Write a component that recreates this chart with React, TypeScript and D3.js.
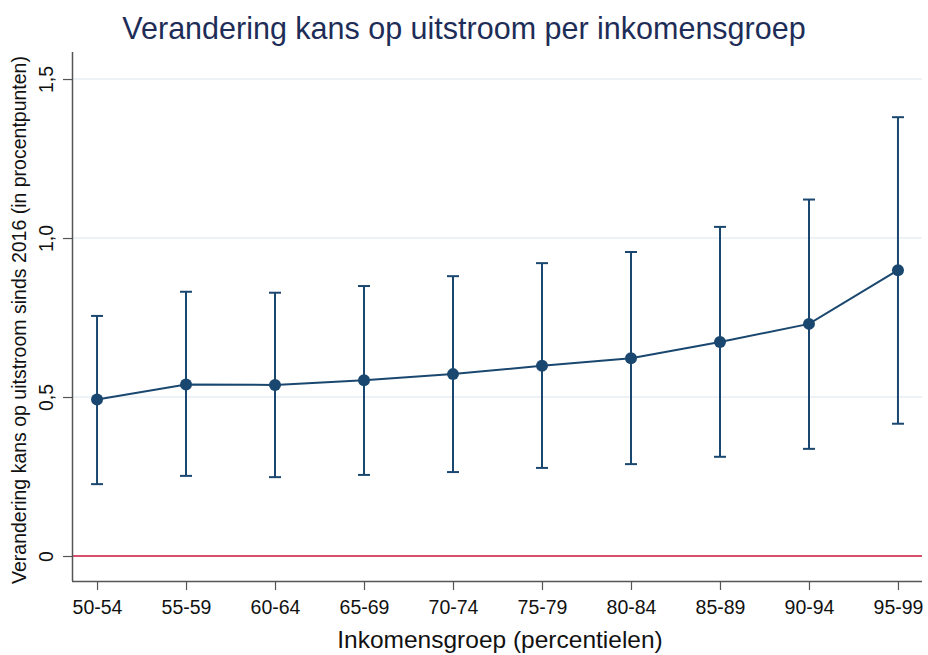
import React, { useEffect, useRef } from "react"
import * as d3 from "d3"

const groups = [ "50-54", "55-59", "60-64", "65-69", "70-74", "75-79", "80-84", "85-89", "90-94", "95-99" ]
const estimate = [ 0.492, 0.539, 0.538, 0.553, 0.572, 0.598, 0.622, 0.673, 0.73, 0.899 ]
const upper = [ 0.755, 0.831, 0.828, 0.849, 0.88, 0.921, 0.956, 1.035, 1.121, 1.38 ]
const lower = [ 0.226, 0.252, 0.248, 0.255, 0.264, 0.277, 0.289, 0.312, 0.337, 0.416 ]
const yTicks = [ 0, 0.5, 1, 1.5 ]
const yTickLabels = [ "0", "0,5", "1,0", "1,5" ]

const W = 928
const H = 655
const navy = "#1a476f"
const font = "'Liberation Sans', Arial, sans-serif"

export default function App() {
  const ref = useRef<SVGSVGElement>( null )

  useEffect( () => {
    const svg = d3.select( ref.current )
    svg.selectAll( "*" ).remove()

    const left = 73
    const right = 922
    const top = 52
    const bottom = 581

    const x = d3.scalePoint<string>()
      .domain( groups )
      .range( [ left, right ] )
      .padding( 0.27 )

    const y = d3.scaleLinear()
      .domain( [ -0.0786, 1.585 ] )
      .range( [ bottom, top ] )

    // grid lines
    svg.append( "g" )
      .selectAll( "line" )
      .data( yTicks.filter( d => d > 0 ) )
      .enter()
      .append( "line" )
      .attr( "x1", left )
      .attr( "x2", right )
      .attr( "y1", d => y( d ) )
      .attr( "y2", d => y( d ) )
      .attr( "stroke", "#e6eef3" )
      .attr( "stroke-width", 1.5 )

    // zero line
    svg.append( "line" )
      .attr( "x1", left )
      .attr( "x2", right )
      .attr( "y1", y( 0 ) )
      .attr( "y2", y( 0 ) )
      .attr( "stroke", "#c8143c" )
      .attr( "stroke-width", 1.5 )

    // y axis
    const yAxis = svg.append( "g" )
      .attr( "transform", `translate(${left},0)` )
      .call( d3.axisLeft( y ).tickValues( yTicks ).tickSize( 10 ).tickFormat( ( d, i ) => yTickLabels[ i ] ) )
    yAxis.select( ".domain" ).attr( "d", `M-0.5,${top}V${bottom}` ).attr( "stroke", "#555" ).attr( "stroke-width", 1.5 )
    yAxis.selectAll( ".tick line" ).attr( "stroke", "#555" ).attr( "stroke-width", 1.2 )
    yAxis.selectAll( ".tick text" )
      .attr( "x", 0 )
      .attr( "y", 0 )
      .attr( "dy", 0 )
      .attr( "transform", "translate(-20,0) rotate(-90)" )
      .attr( "text-anchor", "middle" )
      .attr( "font-family", font )
      .attr( "font-size", 19.5 )
      .attr( "fill", "#111" )

    // x axis
    const xAxis = svg.append( "g" )
      .attr( "transform", `translate(0,${bottom})` )
      .call( d3.axisBottom( x ).tickSize( 9 ).tickSizeOuter( 0 ) )
    xAxis.select( ".domain" ).attr( "d", `M${left - 1},0.5H${right}` ).attr( "stroke", "#555" ).attr( "stroke-width", 1.5 )
    xAxis.selectAll( ".tick line" ).attr( "stroke", "#555" ).attr( "stroke-width", 1.2 )
    xAxis.selectAll( ".tick text" )
      .attr( "y", 19 )
      .attr( "dy", "0.71em" )
      .attr( "font-family", font )
      .attr( "font-size", 19.5 )
      .attr( "fill", "#111" )

    // error bars
    const bars = svg.append( "g" )
      .attr( "stroke", navy )
      .attr( "stroke-width", 2 )
      .attr( "fill", "none" )
    groups.forEach( ( g, i ) => {
      const cx = x( g ) as number
      bars.append( "line" ).attr( "x1", cx ).attr( "x2", cx ).attr( "y1", y( lower[ i ] ) ).attr( "y2", y( upper[ i ] ) )
      bars.append( "line" ).attr( "x1", cx - 6 ).attr( "x2", cx + 6 ).attr( "y1", y( lower[ i ] ) ).attr( "y2", y( lower[ i ] ) )
      bars.append( "line" ).attr( "x1", cx - 6 ).attr( "x2", cx + 6 ).attr( "y1", y( upper[ i ] ) ).attr( "y2", y( upper[ i ] ) )
    } )

    // connecting line
    const line = d3.line<number>()
      .x( ( d, i ) => x( groups[ i ] ) as number )
      .y( d => y( d ) )
    svg.append( "path" )
      .datum( estimate )
      .attr( "d", line )
      .attr( "fill", "none" )
      .attr( "stroke", navy )
      .attr( "stroke-width", 2 )

    svg.append( "g" )
      .selectAll( "circle" )
      .data( estimate )
      .enter()
      .append( "circle" )
      .attr( "cx", ( d, i ) => x( groups[ i ] ) as number )
      .attr( "cy", d => y( d ) )
      .attr( "r", 6 )
      .attr( "fill", navy )

    // titles
    svg.append( "text" )
      .attr( "x", 464 )
      .attr( "y", 39 )
      .attr( "text-anchor", "middle" )
      .attr( "font-family", font )
      .attr( "font-size", 30.5 )
      .attr( "fill", "#1e2d57" )
      .text( "Verandering kans op uitstroom per inkomensgroep" )

    svg.append( "text" )
      .attr( "x", 500 )
      .attr( "y", 648 )
      .attr( "text-anchor", "middle" )
      .attr( "font-family", font )
      .attr( "font-size", 24.5 )
      .attr( "fill", "#111" )
      .text( "Inkomensgroep (percentielen)" )

    svg.append( "text" )
      .attr( "transform", "translate(26,320) rotate(-90)" )
      .attr( "text-anchor", "middle" )
      .attr( "font-family", font )
      .attr( "font-size", 19.5 )
      .attr( "fill", "#111" )
      .text( "Verandering kans op uitstroom sinds 2016 (in procentpunten)" )
  }, [] )

  return (
    <svg
      ref={ref}
      width={W}
      height={H}
      style={{ position: "absolute", left: 0, top: 0, background: "#fff" }}
    />
  )
}
